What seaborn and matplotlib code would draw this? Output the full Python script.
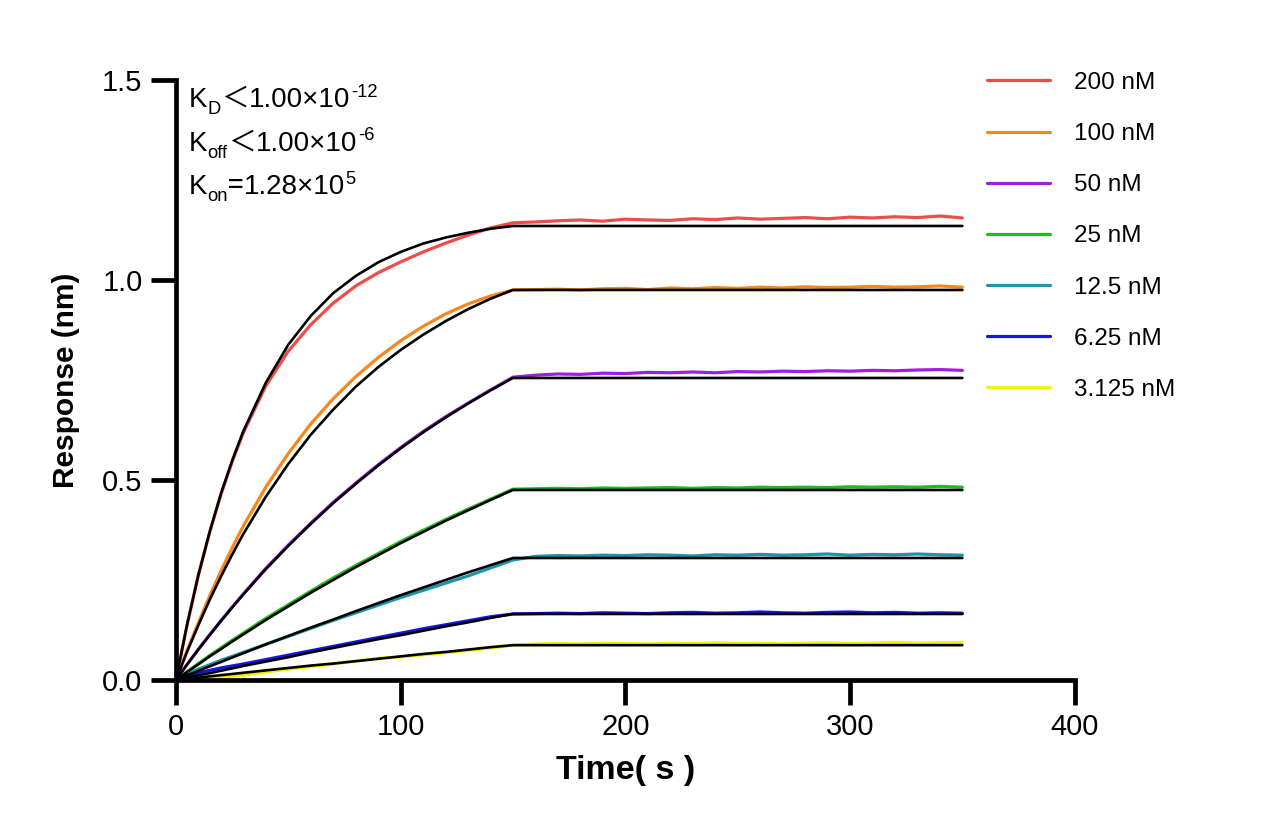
import numpy as np
import pandas as pd
import matplotlib
matplotlib.use('Agg')
import matplotlib.pyplot as plt
import seaborn as sns

##### data #####
conc_labels = ['200 nM', '100 nM', '50 nM', '25 nM', '12.5 nM', '6.25 nM', '3.125 nM']
colors = ['#ee4b4b', '#f7861c', '#a11ee0', '#1ebd1e', '#1e94aa', '#1414e4', '#f4f400']

# association phase, 0-150 s
assoc_t = [0, 5, 10, 15, 20, 25, 30, 40, 50, 60, 70, 80, 90, 100, 110, 120, 130, 140, 150]
# dissociation phase, 160-350 s
dissoc_t = [160, 170, 180, 190, 200, 210, 220, 230, 240, 250,
            260, 270, 280, 290, 300, 310, 320, 330, 340, 350]

# measured curves
assoc_200 = [0, 0.138, 0.263, 0.368, 0.463, 0.545, 0.618, 0.735, 0.822, 0.888, 0.942, 0.985, 1.018, 1.045, 1.07, 1.092, 1.112, 1.13, 1.143]
assoc_100 = [0, 0.074, 0.143, 0.21, 0.272, 0.33, 0.385, 0.482, 0.566, 0.64, 0.703, 0.758, 0.806, 0.848, 0.884, 0.915, 0.94, 0.96, 0.975]
assoc_50 = [0, 0.039, 0.077, 0.113, 0.148, 0.182, 0.215, 0.279, 0.337, 0.392, 0.444, 0.492, 0.538, 0.581, 0.621, 0.658, 0.692, 0.725, 0.757]
assoc_25 = [0, 0.021, 0.041, 0.061, 0.08, 0.099, 0.117, 0.154, 0.188, 0.222, 0.255, 0.286, 0.316, 0.346, 0.374, 0.401, 0.427, 0.452, 0.477]
assoc_12 = [0, 0.014, 0.027, 0.038, 0.049, 0.059, 0.069, 0.089, 0.109, 0.129, 0.149, 0.168, 0.187, 0.206, 0.224, 0.242, 0.26, 0.28, 0.30]
assoc_6 = [0, 0.012, 0.018, 0.024, 0.03, 0.035, 0.04, 0.051, 0.062, 0.073, 0.084, 0.095, 0.106, 0.117, 0.128, 0.138, 0.148, 0.158, 0.165]
assoc_3 = [0, 0.0, 0.003, 0.004, 0.006, 0.009, 0.012, 0.02, 0.027, 0.034, 0.04, 0.047, 0.054, 0.058, 0.063, 0.068, 0.074, 0.08, 0.087]

dissoc_200 = [1.145, 1.148, 1.15, 1.147, 1.152, 1.15, 1.149, 1.153, 1.151, 1.155, 1.152, 1.154, 1.156, 1.153, 1.157, 1.155, 1.158, 1.156, 1.16, 1.155]
dissoc_100 = [0.976, 0.977, 0.975, 0.978, 0.979, 0.976, 0.98, 0.978, 0.981, 0.979, 0.982, 0.98, 0.983, 0.981, 0.982, 0.984, 0.982, 0.983, 0.985, 0.982]
dissoc_50 = [0.762, 0.765, 0.764, 0.767, 0.766, 0.769, 0.768, 0.77, 0.768, 0.771, 0.77, 0.772, 0.771, 0.773, 0.772, 0.774, 0.773, 0.775, 0.776, 0.774]
dissoc_25 = [0.478, 0.479, 0.478, 0.48, 0.479, 0.48, 0.481, 0.479, 0.481, 0.48, 0.482, 0.481, 0.482, 0.481, 0.483, 0.482, 0.483, 0.482, 0.484, 0.482]
dissoc_12 = [0.309, 0.311, 0.31, 0.312, 0.311, 0.313, 0.312, 0.31, 0.313, 0.312, 0.314, 0.312, 0.313, 0.315, 0.312, 0.314, 0.313, 0.315, 0.313, 0.312]
dissoc_6 = [0.166, 0.167, 0.166, 0.168, 0.167, 0.166, 0.168, 0.169, 0.167, 0.168, 0.17, 0.168, 0.167, 0.169, 0.17, 0.168, 0.169, 0.167, 0.168, 0.167]
dissoc_3 = [0.09, 0.091, 0.09, 0.092, 0.091, 0.09, 0.092, 0.091, 0.093, 0.091, 0.092, 0.09, 0.092, 0.093, 0.091, 0.092, 0.094, 0.092, 0.093, 0.094]

# fitted curves (black)
fit_200 = [0, 0.139, 0.262, 0.370, 0.465, 0.548, 0.622, 0.743, 0.838, 0.910, 0.967, 1.010, 1.044, 1.070, 1.091, 1.106, 1.118, 1.128, 1.135]
fit_100 = [0, 0.071, 0.137, 0.200, 0.258, 0.313, 0.365, 0.458, 0.540, 0.613, 0.676, 0.733, 0.782, 0.825, 0.863, 0.897, 0.927, 0.953, 0.975]
fit_50 = [0, 0.039, 0.076, 0.112, 0.147, 0.181, 0.214, 0.277, 0.335, 0.390, 0.442, 0.490, 0.536, 0.579, 0.619, 0.656, 0.691, 0.724, 0.755]
fit_25 = [0, 0.020, 0.039, 0.059, 0.077, 0.096, 0.114, 0.150, 0.184, 0.218, 0.250, 0.282, 0.312, 0.342, 0.370, 0.398, 0.424, 0.450, 0.475]
fit_12 = [0, 0.011, 0.023, 0.034, 0.045, 0.056, 0.067, 0.089, 0.110, 0.131, 0.151, 0.172, 0.192, 0.212, 0.231, 0.250, 0.269, 0.287, 0.305]
fit_6 = [0, 0.006, 0.012, 0.017, 0.023, 0.029, 0.035, 0.046, 0.057, 0.069, 0.080, 0.091, 0.102, 0.112, 0.123, 0.134, 0.144, 0.155, 0.165]
fit_3 = [0, 0.003, 0.006, 0.009, 0.012, 0.015, 0.018, 0.024, 0.030, 0.036, 0.041, 0.047, 0.053, 0.059, 0.065, 0.070, 0.076, 0.082, 0.087]
fit_end_t = 350

# kinetics text, pieces: (symbol, subscript, relation, mantissa, exponent)
kin_rows = [('K', 'D', '＜', '1.00×10', '-12'),
            ('K', 'off', '＜', '1.00×10', '-6'),
            ('K', 'on', '=', '1.28×10', '5')]

assoc_all = [assoc_200, assoc_100, assoc_50, assoc_25, assoc_12, assoc_6, assoc_3]
dissoc_all = [dissoc_200, dissoc_100, dissoc_50, dissoc_25, dissoc_12, dissoc_6, dissoc_3]
fit_all = [fit_200, fit_100, fit_50, fit_25, fit_12, fit_6, fit_3]

# long tables for seaborn
rows = []
for lab, a, d in zip(conc_labels, assoc_all, dissoc_all):
    for t, v in zip(assoc_t + dissoc_t, a + d):
        rows.append({'conc': lab, 'time': t, 'resp': v})
data_df = pd.DataFrame(rows)

fit_rows = []
for lab, f in zip(conc_labels, fit_all):
    for t, v in zip(assoc_t + [fit_end_t], f + [f[-1]]):
        fit_rows.append({'conc': lab, 'time': t, 'resp': v})
fit_df = pd.DataFrame(fit_rows)

##### plot #####
sns.set_style('ticks')
plt.rcParams['font.family'] = ['Liberation Sans', 'Noto Sans CJK SC', 'DejaVu Sans']
for k in ['text.color', 'axes.labelcolor', 'xtick.color', 'ytick.color', 'axes.edgecolor']:
    plt.rcParams[k] = 'black'

fig = plt.figure(figsize=(12.84, 8.33), dpi=100)
ax = fig.add_axes([0.137, 0.1837, 0.7, 0.7203])

sns.lineplot(data=data_df, x='time', y='resp', hue='conc', hue_order=conc_labels,
             palette=colors, linewidth=2.3, ax=ax, sort=False, estimator=None)
for lab in conc_labels:
    sub = fit_df[fit_df['conc'] == lab]
    sns.lineplot(data=sub, x='time', y='resp', color='black', linewidth=1.9,
                 ax=ax, sort=False, estimator=None, legend=False)

ax.set_xlim(0, 400)
ax.set_ylim(0, 1.5)
ax.set_xticks([0, 100, 200, 300, 400])
ax.set_yticks([0.0, 0.5, 1.0, 1.5])
ax.set_yticklabels(['0.0', '0.5', '1.0', '1.5'])
for s in ['top', 'right']:
    ax.spines[s].set_visible(False)
for s in ['left', 'bottom']:
    ax.spines[s].set_linewidth(3.4)
ax.tick_params(axis='both', width=3.4, length=18, labelsize=21, pad=6)

ax.set_xlabel('Time( s )', fontsize=24.5, fontweight='bold', labelpad=10)
ax.set_ylabel('Response (nm)', fontsize=21.5, fontweight='bold', labelpad=16)

# kinetics text, chained pieces so that the wide ＜ can come from the CJK font
fs = 20
small = fs * 0.66
base_y = [0.955, 0.882, 0.810]
for (sym, sub, rel, man, ex), y in zip(kin_rows, base_y):
    p = ax.text(0.014, y, sym, transform=ax.transAxes, fontsize=fs, va='baseline', ha='left')
    p = ax.annotate(sub, xy=(1, y), xycoords=(p, 'axes fraction'), xytext=(0.5, -5),
                    textcoords='offset points', fontsize=small, va='baseline', ha='left')
    p = ax.annotate(rel, xy=(1, y), xycoords=(p, 'axes fraction'), fontsize=fs,
                    va='baseline', ha='left', family=['Noto Sans CJK SC', 'Liberation Sans'])
    p = ax.annotate(man, xy=(1, y), xycoords=(p, 'axes fraction'), fontsize=fs,
                    va='baseline', ha='left')
    ax.annotate(ex, xy=(1, y), xycoords=(p, 'axes fraction'), xytext=(0.5, 7.5),
                textcoords='offset points', fontsize=small, va='baseline', ha='left')

leg = ax.legend(loc='upper left', bbox_to_anchor=(0.878, 1.05), frameon=False,
                fontsize=17.5, labelspacing=1.2, handlelength=2.6, handletextpad=1.0)
for line in leg.get_lines():
    line.set_linewidth(2.3)

fig.savefig('out.png', dpi=100)
